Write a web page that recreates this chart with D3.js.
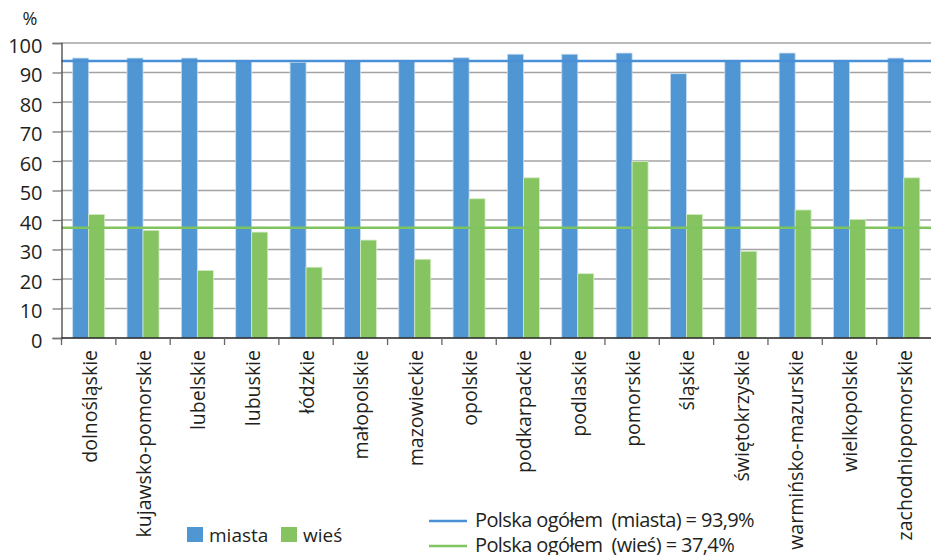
<!DOCTYPE html>
<html>
<head>
<meta charset="utf-8">
<script src="https://cdnjs.cloudflare.com/ajax/libs/d3/7.8.5/d3.min.js"></script>
<style>
  body { margin: 0; background: #fff; }
  svg { display: block; font-family: "Open Sans", "Noto Sans", sans-serif; }
  text { fill: #231f20; }
</style>
</head>
<body>
<svg width="931" height="555"></svg>
<script>
// data
var regions = ["dolnośląskie", "kujawsko-pomorskie", "lubelskie", "lubuskie", "łódzkie",
  "małopolskie", "mazowieckie", "opolskie", "podkarpackie", "podlaskie", "pomorskie",
  "śląskie", "świętokrzyskie", "warmińsko-mazurskie", "wielkopolskie", "zachodniopomorskie"];
var miasta = [94.9, 94.9, 94.9, 93.9, 93.4, 94.0, 93.9, 95.0, 96.2, 96.2, 96.6, 89.6, 93.7, 96.6, 93.7, 94.9];
var wies   = [41.9, 36.5, 22.9, 35.9, 24.0, 33.2, 26.7, 47.2, 54.3, 21.8, 59.8, 41.9, 29.4, 43.4, 40.2, 54.3];
var yTicks = [0, 10, 20, 30, 40, 50, 60, 70, 80, 90, 100];
var polskaMiasta = 93.9;
var polskaWies = 37.4;

var seriesNames = ["miasta", "wieś"];
var seriesColors = ["#5096d2", "#86c462"];
var lineColors = ["#4a90d6", "#7fc45e"];

const svg = d3.select('svg');
const plotLeft = 61.5, plotRight = 931, plotTop = 43, plotBottom = 338;

const xScale = d3.scaleBand()
  .domain(regions)
  .range([plotLeft, plotRight])
  .padding(0);

const xInner = d3.scaleBand()
  .domain(seriesNames)
  .range([0, xScale.bandwidth()])
  .paddingInner(0)
  .paddingOuter(0.7);

const yScale = d3.scaleLinear()
  .domain([0, 100])
  .range([plotBottom, plotTop]);

// horizontal grid
svg.append('g')
  .selectAll('line')
  .data(yTicks.filter(d => d > 0))
  .enter()
  .append('line')
  .attr('x1', plotLeft)
  .attr('x2', plotRight)
  .attr('y1', d => yScale(d))
  .attr('y2', d => yScale(d))
  .attr('stroke', '#a3a3a3')
  .attr('stroke-width', 1.5);

// bars
const groups = svg.append('g')
  .selectAll('g')
  .data(regions)
  .enter()
  .append('g')
  .attr('transform', d => `translate(${xScale(d)},0)`);

groups.append('rect')
  .attr('x', xInner('miasta'))
  .attr('width', xInner.bandwidth())
  .attr('y', (d, i) => yScale(miasta[i]))
  .attr('height', (d, i) => yScale(0) - yScale(miasta[i]))
  .attr('fill', seriesColors[0])
  .attr('stroke', '#c8dcf0')
  .attr('stroke-width', 0.8);

groups.append('rect')
  .attr('x', xInner('wieś'))
  .attr('width', xInner.bandwidth())
  .attr('y', (d, i) => yScale(wies[i]))
  .attr('height', (d, i) => yScale(0) - yScale(wies[i]))
  .attr('fill', seriesColors[1])
  .attr('stroke', '#d3ebc4')
  .attr('stroke-width', 0.8);

// national average lines
svg.append('line')
  .attr('x1', plotLeft).attr('x2', plotRight)
  .attr('y1', yScale(polskaMiasta)).attr('y2', yScale(polskaMiasta))
  .attr('stroke', lineColors[0])
  .attr('stroke-width', 2.5);

svg.append('line')
  .attr('x1', plotLeft).attr('x2', plotRight)
  .attr('y1', yScale(polskaWies)).attr('y2', yScale(polskaWies))
  .attr('stroke', lineColors[1])
  .attr('stroke-width', 2.5);

// y axis
const yAxis = svg.append('g')
  .attr('transform', `translate(${plotLeft},0)`)
  .call(d3.axisLeft(yScale).tickValues(yTicks).tickSize(9).tickPadding(10));
yAxis.select('.domain').attr('stroke', '#444').attr('stroke-width', 1.3);
yAxis.selectAll('.tick line').attr('stroke', '#777').attr('stroke-width', 1.3);
yAxis.selectAll('.tick text')
  .attr('font-size', 20)
  .attr('font-family', '"Open Sans", sans-serif')
  .attr('fill', '#231f20')
  .attr('dy', '0.45em');

svg.append('text')
  .attr('x', 30)
  .attr('y', 25)
  .attr('text-anchor', 'middle')
  .attr('font-size', 18)
  .text('%');

// x axis
svg.append('line')
  .attr('x1', plotLeft).attr('x2', plotRight)
  .attr('y1', plotBottom).attr('y2', plotBottom)
  .attr('stroke', '#222')
  .attr('stroke-width', 1.5);

svg.append('g')
  .selectAll('line')
  .data(regions)
  .enter()
  .append('line')
  .attr('x1', d => xScale(d))
  .attr('x2', d => xScale(d))
  .attr('y1', plotBottom)
  .attr('y2', plotBottom + 7)
  .attr('stroke', '#666')
  .attr('stroke-width', 1.3);

svg.append('g')
  .selectAll('text')
  .data(regions)
  .enter()
  .append('text')
  .attr('transform', d => `translate(${xScale(d) + xScale.bandwidth() / 2 + 8},${plotBottom + 12}) rotate(-90)`)
  .attr('text-anchor', 'end')
  .attr('font-size', 19.5)
  .text(d => d);

// legend: bars
const legBars = svg.append('g');
seriesNames.forEach((name, i) => {
  const lx = [187, 281][i];
  legBars.append('rect')
    .attr('x', lx).attr('y', 527)
    .attr('width', 16).attr('height', 15)
    .attr('fill', seriesColors[i]);
  legBars.append('text')
    .attr('x', lx + 22).attr('y', 542)
    .attr('font-size', 19)
    .text(name);
});

// legend: lines
var lineLabels = ["Polska ogółem  (miasta) = 93,9%", "Polska ogółem  (wieś) = 37,4%"];
lineLabels.forEach((label, i) => {
  const ly = 521 + i * 25;
  svg.append('line')
    .attr('x1', 429).attr('x2', 467)
    .attr('y1', ly).attr('y2', ly)
    .attr('stroke', lineColors[i])
    .attr('stroke-width', 2.5);
  svg.append('text')
    .attr('x', 475).attr('y', ly + 6)
    .attr('font-size', 20)
    .attr('letter-spacing', '-0.6px')
    .style('white-space', 'pre')
    .text(label);
});
</script>
</body>
</html>
